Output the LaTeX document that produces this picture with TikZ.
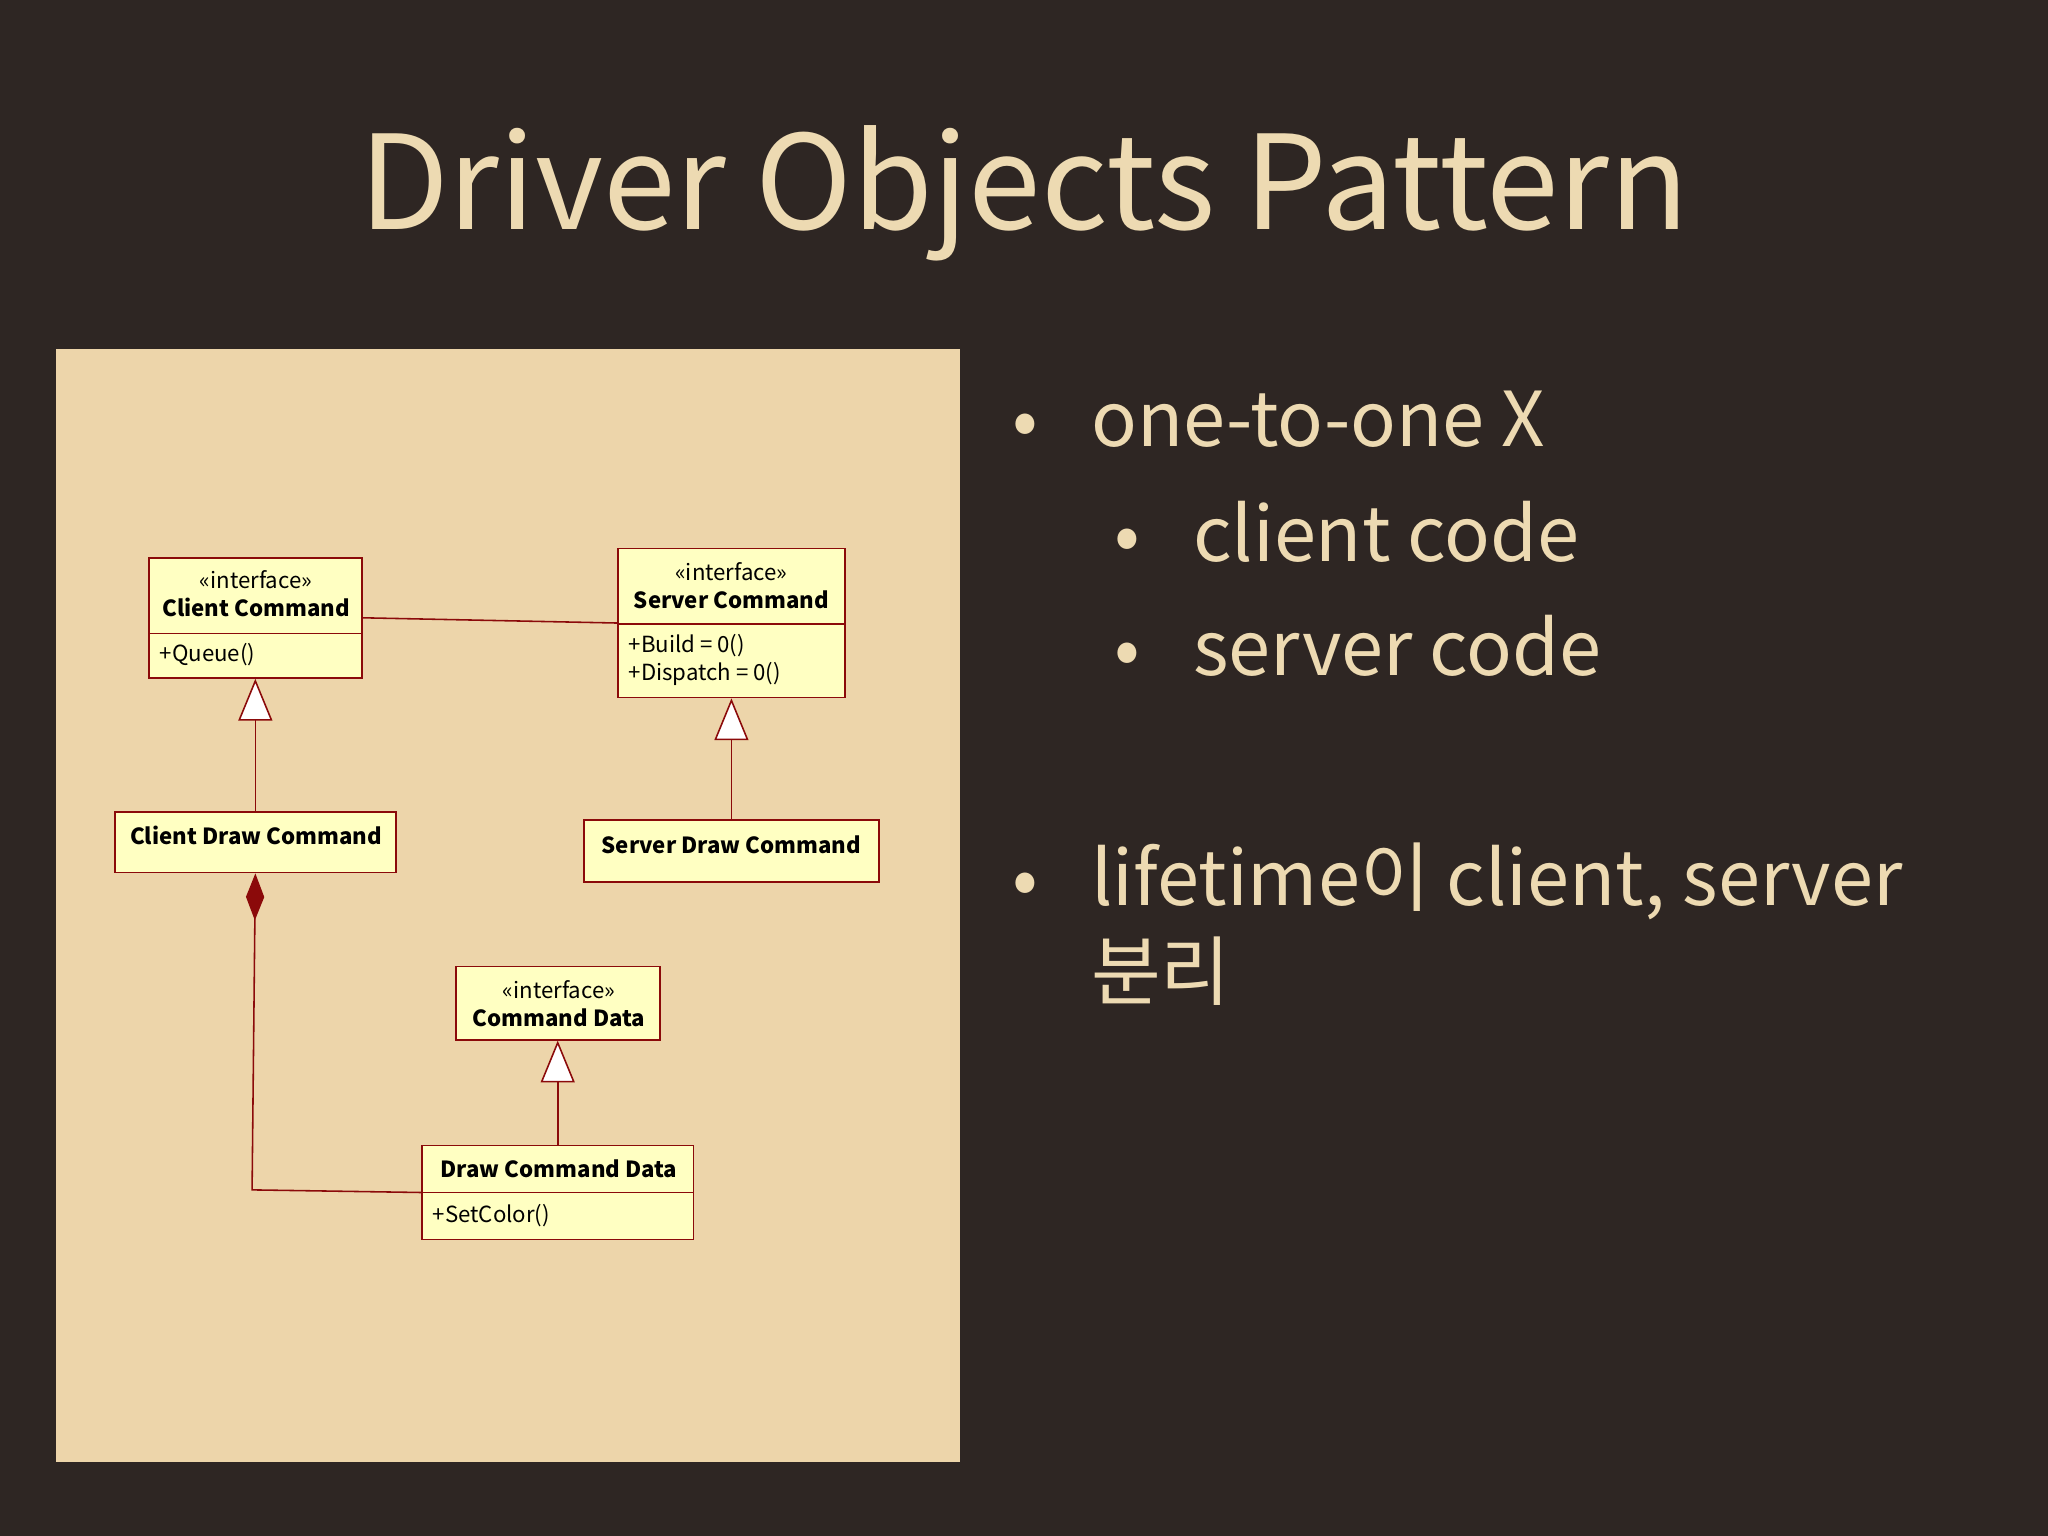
\documentclass[tikz,border=0pt]{standalone}
\usepackage{fontspec}
\setmainfont{Noto Sans CJK KR}
\usetikzlibrary{arrows.meta}
\definecolor{bg}{HTML}{2E2623}
\definecolor{panel}{HTML}{EDD5AA}
\definecolor{txt}{HTML}{EDDAB2}
\definecolor{boxfill}{HTML}{FFFFC2}
\definecolor{boxline}{HTML}{8B0A0A}
\tikzset{
  umlbox/.style={draw=boxline, fill=boxfill, line width=0.7pt, inner sep=0pt},
  lbl/.style={font=\fontsize{8.5}{10}\selectfont, text=black, inner sep=0pt},
  blbl/.style={lbl, font=\fontsize{8.5}{10}\selectfont\bfseries},
  gen/.style={draw=boxline, line width=0.6pt, -{Triangle[fill=white, width=13pt, length=16pt]}},
  comp/.style={draw=boxline, line width=0.6pt, -{Diamond[fill=boxline, width=7pt, length=18pt]}},
  big/.style={text=txt, anchor=base west, inner sep=0pt, font=\fontsize{29}{34}\selectfont},
}
\begin{document}
\begin{tikzpicture}[x=0.5pt,y=-0.5pt]
\fill[bg] (0,0) rectangle (1568,1176);
\fill[panel] (43,267) rectangle (735,1119);
\node[text=txt, font=\fontsize{50}{60}\selectfont, inner sep=0pt] (title) at (784,148) {Driver Objects Pattern};
% boxes
\node[umlbox, minimum width=81.5pt, minimum height=46pt] (cc) at (195.5,473) {};
\draw[boxline, line width=0.7pt] (114,485) -- (277,485);
\node[lbl] (cc1) at (196,444) {<<interface>>};
\node[blbl] (cc2) at (196,465) {Client Command};
\node[lbl, anchor=west] (cc3) at (122,501) {+Queue()};
\node[umlbox, minimum width=87pt, minimum height=57pt] (sc) at (560,477) {};
\draw[boxline, line width=0.7pt] (473,478) -- (647,478);
\node[lbl] (sc1) at (560,438) {<<interface>>};
\node[blbl] (sc2) at (560,459) {Server Command};
\node[lbl, anchor=west] (sc3) at (481,494) {+Build = 0()};
\node[lbl, anchor=west] (sc4) at (481,516) {+Dispatch = 0()};
\node[umlbox, minimum width=107.5pt, minimum height=23pt] (cdc) at (195.5,645) {};
\node[blbl] (cdct) at (196,640) {Client Draw Command};
\node[umlbox, minimum width=113pt, minimum height=23.5pt] (sdc) at (560,651.5) {};
\node[blbl] (sdct) at (560,647) {Server Draw Command};
\node[umlbox, minimum width=78pt, minimum height=28pt] (cd) at (427,768) {};
\node[lbl] (cd1) at (428,758) {<<interface>>};
\node[blbl] (cd2) at (428,779) {Command Data};
\node[umlbox, minimum width=104pt, minimum height=36pt] (dcd) at (427,913) {};
\draw[boxline, line width=0.7pt] (323,913) -- (531,913);
\node[blbl] (dcd1) at (428,895) {Draw Command Data};
\node[lbl, anchor=west] (dcd2) at (331,931) {+SetColor()};
% connectors
\draw[boxline, line width=0.6pt] (cc.east) -- (sc.west);
\draw[gen] (cdc.north) -- (cc.south);
\draw[gen] (sdc.north) -- (sc.south);
\draw[gen] (dcd.north) -- (cd.south);
\coordinate (bend) at (193,911);
\draw[comp] (dcd.west) -- (bend) -- (cdc.south);
% bullets
\node[big] (b1) at (775,342) {•};
\node[big] (t1) at (835,342) {one-to-one X};
\node[big] (b2) at (853,430) {•};
\node[big] (t2) at (913,430) {client code};
\node[big] (b3) at (853,517) {•};
\node[big] (t3) at (913,517) {server code};
\node[big] (b4) at (775,693) {•};
\node[big] (t4) at (835,693) {lifetime이 client, server};
\node[big] (t5) at (835,765) {분리};
\end{tikzpicture}
\end{document}
